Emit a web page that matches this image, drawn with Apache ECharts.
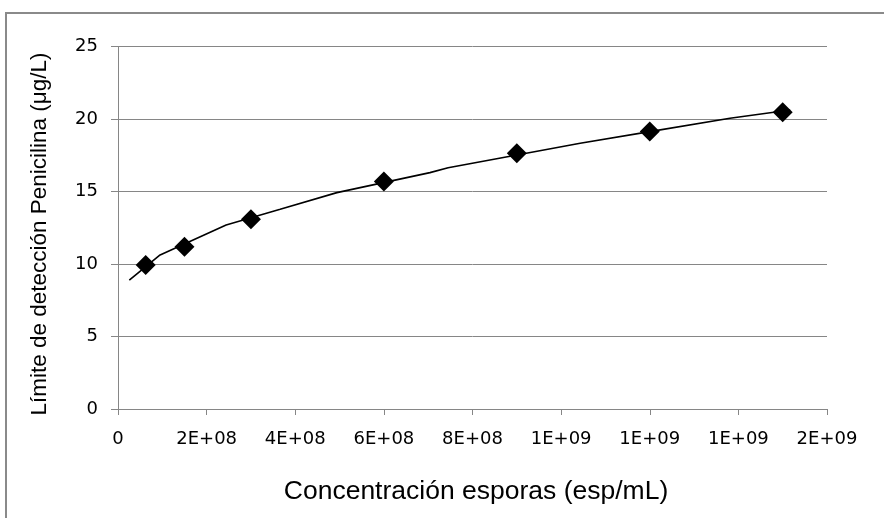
<!DOCTYPE html>
<html>
<head>
<meta charset="utf-8">
<script src="https://cdn.jsdelivr.net/npm/echarts@6/dist/echarts.min.js"></script>
<style>
html,body{margin:0;padding:0;background:#fff;}
#c{width:884px;height:518px;}
</style>
</head>
<body>
<div id="c"></div>
<script>
// Measured data points
var concentration = [6.25e7, 1.5e8, 3e8, 6e8, 9e8, 1.2e9, 1.5e9];
var detectionLimit = [9.94, 11.2, 13.1, 15.7, 17.65, 19.14, 20.48];

// Trendline
var trendX = [2.55e7, 9.5e7, 2.44e8, 3.66e8, 4.94e8, 7.04e8, 7.45e8, 1.043e9, 1.2e9, 1.381e9, 1.517e9];
var trendY = [8.9, 10.63, 12.7, 13.78, 14.93, 16.31, 16.65, 18.34, 19.14, 20.06, 20.63];

var xTitle = 'Concentración esporas (esp/mL)';
var yTitle = 'Límite de detección Penicilina (μg/L)';

function sci(v) {
  if (v === 0) return '0';
  var s = v.toExponential(0); // e.g. "2e+8"
  var parts = s.split('e');
  var exp = parseInt(parts[1], 10);
  var sign = exp < 0 ? '-' : '+';
  var a = Math.abs(exp);
  return parts[0] + 'E' + sign + (a < 10 ? '0' + a : a);
}

var pts = concentration.map(function (x, i) { return [x, detectionLimit[i]]; });
var trend = trendX.map(function (x, i) { return [x, trendY[i]]; });

var chart = echarts.init(document.getElementById('c'), null, {renderer: 'canvas'});
chart.setOption({
  backgroundColor: '#ffffff',
  animation: false,
  graphic: [
    {
      type: 'rect',
      shape: {x: 6, y: 13, width: 900, height: 600},
      style: {fill: 'none', stroke: '#8a8a8a', lineWidth: 2},
      silent: true
    },
    {
      type: 'text',
      x: 476, y: 492,
      style: {text: xTitle, fontFamily: 'Liberation Sans', fontSize: 26.5, fill: '#000', align: 'center', verticalAlign: 'middle'},
      silent: true
    },
    {
      type: 'text',
      x: 40, y: 234,
      rotation: Math.PI / 2,
      style: {text: yTitle, fontFamily: 'Liberation Sans', fontSize: 22.5, fill: '#000', align: 'center', verticalAlign: 'middle'},
      silent: true
    }
  ],
  grid: {left: 118, top: 46.7, right: 57, bottom: 109, containLabel: false},
  xAxis: {
    type: 'value',
    min: 0, max: 1.6e9, interval: 2e8,
    axisLine: {show: true, lineStyle: {color: '#868686', width: 1}},
    axisTick: {show: true, length: 6, inside: false, lineStyle: {color: '#868686'}},
    axisLabel: {formatter: sci, fontFamily: 'DejaVu Sans', fontSize: 18, color: '#000', margin: 21, showMaxLabel: true, showMinLabel: true},
    splitLine: {show: false}
  },
  yAxis: {
    type: 'value',
    min: 0, max: 25, interval: 5,
    axisLine: {show: true, lineStyle: {color: '#868686', width: 1}},
    axisTick: {show: true, length: 7, inside: false, lineStyle: {color: '#868686'}},
    axisLabel: {fontFamily: 'DejaVu Sans', fontSize: 18, color: '#000', margin: 20},
    splitLine: {show: true, lineStyle: {color: '#868686', width: 1}}
  },
  series: [
    {
      type: 'line',
      data: trend,
      showSymbol: false,
      symbol: 'none',
      lineStyle: {color: '#000', width: 1.6},
      z: 2
    },
    {
      type: 'scatter',
      data: pts,
      symbol: 'diamond',
      symbolSize: 20,
      itemStyle: {color: '#000', opacity: 1},
      z: 3
    }
  ]
});
</script>
</body>
</html>
